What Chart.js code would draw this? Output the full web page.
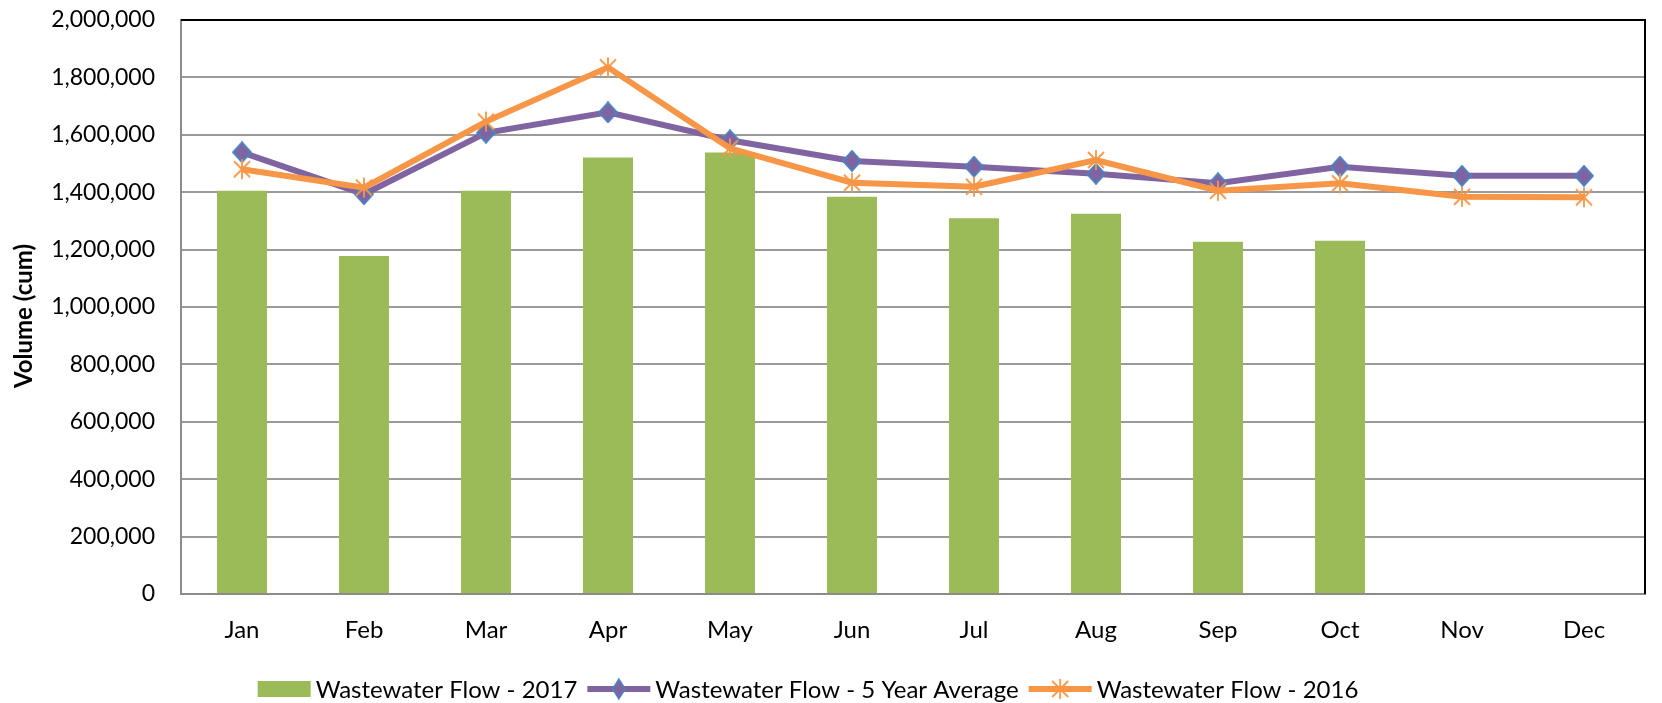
<!DOCTYPE html>
<html>
<head>
<meta charset="utf-8">
<script src="https://cdn.jsdelivr.net/npm/chart.js"></script>
<style>
  html, body { margin: 0; padding: 0; background: #fff; }
  #wrap { width: 1662px; height: 703px; }
</style>
</head>
<body>
<div id="wrap"><canvas id="c" width="1662" height="703"></canvas></div>
<script>
// данные
var months = ['Jan', 'Feb', 'Mar', 'Apr', 'May', 'Jun', 'Jul', 'Aug', 'Sep', 'Oct', 'Nov', 'Dec'];
var flow2017 = [1405000, 1178000, 1405000, 1521000, 1538000, 1384000, 1309000, 1325000, 1227000, 1231000, null, null];
var flowAvg5 = [1539000, 1393000, 1607000, 1678000, 1581000, 1509000, 1489000, 1464000, 1431000, 1489000, 1457000, 1457000];
var flow2016 = [1480000, 1416000, 1646000, 1835000, 1553000, 1433000, 1419000, 1512000, 1405000, 1431000, 1384000, 1382000];
var yTicks = { min: 0, max: 2000000, step: 200000 };

var FONT = 'Lato';
var GREEN = '#9BBB59', PURPLE = '#8064A2', BLUE = '#4F81BD', ORANGE = '#F79646';

// звёздочка Excel: крест X + вертикаль
function makeStar(size, color){
	var c = document.createElement('canvas');
	c.width = size; c.height = size;
	var g = c.getContext('2d');
	var h = size / 2, r = size / 2 - 1;
	g.strokeStyle = color;
	g.lineWidth = 1.8;
	g.beginPath();
	g.moveTo(h, h - r); g.lineTo(h, h + r);
	var d = r * 0.8;
	g.moveTo(h - d, h - d); g.lineTo(h + d, h + d);
	g.moveTo(h + d, h - d); g.lineTo(h - d, h + d);
	g.stroke();
	return c;
}
// ромб: заливка фиолетовая, обводка синяя
function makeDiamond(w, hgt, fill, stroke){
	var c = document.createElement('canvas');
	c.width = w; c.height = hgt;
	var g = c.getContext('2d');
	var cx = w / 2, cy = hgt / 2, rx = w / 2 - 1.2, ry = hgt / 2 - 1.2;
	g.fillStyle = fill;
	g.strokeStyle = stroke;
	g.lineWidth = 2;
	g.beginPath();
	g.moveTo(cx, cy - ry); g.lineTo(cx + rx, cy); g.lineTo(cx, cy + ry); g.lineTo(cx - rx, cy);
	g.closePath();
	g.fill(); g.stroke();
	return c;
}
var star = makeStar(22, ORANGE);
var diamond = makeDiamond(20, 22, PURPLE, BLUE);

// рамка области построения сверху и справа + подпись оси Y
var frame = {
	id: 'frame',
	beforeDatasetsDraw: function(chart){
		var a = chart.chartArea, ctx = chart.ctx;
		ctx.save();
		ctx.strokeStyle = '#000';
		ctx.lineWidth = 2;
		ctx.beginPath();
		ctx.moveTo(a.left, a.top);
		ctx.lineTo(a.right, a.top);
		ctx.lineTo(a.right, a.bottom);
		ctx.stroke();
		ctx.restore();
	},
	afterDraw: function(chart){
		var ctx = chart.ctx;
		ctx.save();
		ctx.translate(24, 316);
		ctx.rotate(-Math.PI / 2);
		ctx.font = 'bold 24px ' + FONT;
		ctx.fillStyle = '#000';
		ctx.textAlign = 'center';
		ctx.textBaseline = 'middle';
		ctx.fillText('Volume (cum)', 0, 0);
		ctx.restore();
	}
};

// легенда внизу, как в Excel
var legend = {
	id: 'xlLegend',
	afterDraw: function(chart){
		var ctx = chart.ctx;
		var items = [
			{ text: 'Wastewater Flow - 2017', mark: null },
			{ text: 'Wastewater Flow - 5 Year Average', mark: diamond, col: PURPLE },
			{ text: 'Wastewater Flow - 2016', mark: star, col: ORANGE }
		];
		ctx.save();
		ctx.font = '24px ' + FONT;
		var markW = [53, 63, 63], gap = 5, between = 10;
		var total = 0;
		items.forEach(function(it, i){
			it.w = ctx.measureText(it.text).width;
			total += markW[i] + gap + it.w + (i < items.length - 1 ? between : 0);
		});
		var x = 808 - total / 2, y = 689;
		items.forEach(function(it, i){
			var mw = markW[i];
			if (!it.mark){
				ctx.fillStyle = GREEN;
				ctx.fillRect(x, y - 8, mw, 16);
			} else {
				ctx.strokeStyle = it.col;
				ctx.lineWidth = 6;
				ctx.beginPath();
				ctx.moveTo(x, y); ctx.lineTo(x + mw, y);
				ctx.stroke();
				var cx = x + mw / 2;
				if (it.mark === diamond) ctx.drawImage(diamond, cx - 7, y - 11, 14, 22);
				else ctx.drawImage(star, cx - 11, y - 11);
			}
			x += mw + gap;
			ctx.fillStyle = '#000';
			ctx.textBaseline = 'middle';
			ctx.textAlign = 'left';
			ctx.fillText(it.text, x, y + 1);
			x += it.w + between;
		});
		ctx.restore();
	}
};

new Chart(document.getElementById('c'), {
	type: 'bar',
	data: {
		labels: months,
		datasets: [
			{
				type: 'bar',
				label: 'Wastewater Flow - 2017',
				data: flow2017,
				backgroundColor: GREEN,
				categoryPercentage: 1,
				barPercentage: 0.41,
				order: 2
			},
			{
				type: 'line',
				label: 'Wastewater Flow - 5 Year Average',
				data: flowAvg5,
				borderColor: PURPLE,
				borderWidth: 6,
				tension: 0,
				pointStyle: diamond,
				pointRadius: 10,
				order: 1
			},
			{
				type: 'line',
				label: 'Wastewater Flow - 2016',
				data: flow2016,
				borderColor: ORANGE,
				borderWidth: 6,
				tension: 0,
				pointStyle: star,
				pointRadius: 11,
				order: 0
			}
		]
	},
	options: {
		responsive: false,
		animation: false,
		layout: { padding: { left: 0, right: 7, top: 20, bottom: 49 } },
		plugins: {
			legend: { display: false },
			tooltip: { enabled: false }
		},
		scales: {
			x: {
				grid: { display: false, drawTicks: false },
				border: { color: '#8c8c8c', width: 2 },
				ticks: { color: '#000', font: { family: FONT, size: 24 }, padding: 22 },
				afterFit: function(s){ s.height = 60; s.paddingLeft = 0; s.paddingRight = 0; }
			},
			y: {
				min: yTicks.min,
				max: yTicks.max,
				grid: { color: '#9a9a9a', lineWidth: 2, drawTicks: false },
				border: { color: '#8c8c8c', width: 2 },
				ticks: {
					stepSize: yTicks.step,
					color: '#000',
					padding: 26,
					font: { family: FONT, size: 23 },
					callback: function(v){ return v.toLocaleString('en-US'); }
				},
				afterFit: function(s){ s.width = 181; s.paddingTop = 0; s.paddingBottom = 0; }
			}
		}
	},
	plugins: [frame, legend]
});
</script>
</body>
</html>
